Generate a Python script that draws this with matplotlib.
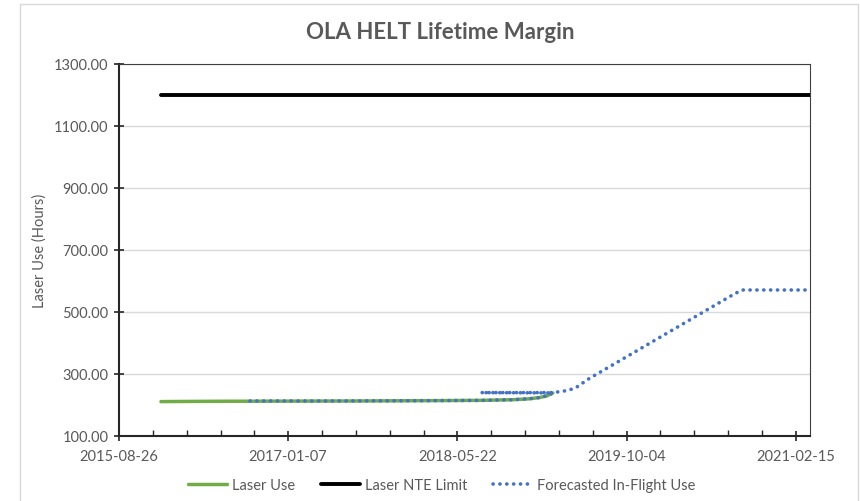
import matplotlib
matplotlib.use("Agg")
import matplotlib.pyplot as plt
import matplotlib.dates as mdates
import matplotlib.patches as patches
import numpy as np
from datetime import datetime, timedelta

plt.rcParams['font.family'] = ['Lato', 'DejaVu Sans']

# Laser Use (measured)
use_dates = ["2015-12-28", "2016-06-01", "2017-01-01", "2017-08-01", "2018-03-01",
             "2018-08-01", "2018-11-01", "2018-12-20", "2019-01-20", "2019-02-12", "2019-02-28"]
use_hours = [211, 212, 212.5, 213, 214, 215, 217, 220, 224, 230, 239]

# Laser NTE Limit
nte_dates = ["2015-12-28", "2021-03-29"]
nte_hours = [1200, 1200]

# Forecasted In-Flight Use
fc_dates = ["2016-09-16", "2017-06-01", "2018-03-01", "2018-08-01", "2018-11-01",
            "2018-12-20", "2019-01-20", "2019-02-12", "2019-02-28",
            "2018-07-30", "2019-02-28", "2019-04-15", "2019-05-10", "2019-06-15",
            "2020-08-20", "2020-09-11", "2021-03-29"]
fc_hours = [213, 213, 214, 215, 217, 220, 224, 230, 239,
            240, 240, 247, 258, 285,
            560, 571, 571]

y_ticks = [100, 300, 500, 700, 900, 1100, 1300]
x_start = datetime(2015, 8, 26)
x_end = datetime(2021, 3, 29)

def to_dt(lst):
    return [datetime.strptime(s, "%Y-%m-%d") for s in lst]

fig = plt.figure(figsize=(8.6, 5.02), dpi=100)
ax = fig.add_axes([119/860, 1-437/502, (810-119)/860, (437-65)/502])

grey = '#595959'

# chart frame
fig.patches.append(patches.Rectangle((20/860, -0.01), (858-20)/860, 1-5/502+0.01,
                                     transform=fig.transFigure, fill=False,
                                     edgecolor='#d9d9d9', linewidth=1))

ax.plot(to_dt(use_dates), use_hours, color='#70ad47', linewidth=2.5,
        solid_capstyle='round', label='Laser Use', zorder=3)
ax.plot(to_dt(nte_dates), nte_hours, color='black', linewidth=2.8,
        solid_capstyle='round', label='Laser NTE Limit', zorder=3)
ax.plot(to_dt(fc_dates), fc_hours, color='#4472c4', linewidth=2.6,
        linestyle=(0, (0.05, 1.85)), dash_capstyle='round',
        label='Forecasted In-Flight Use', zorder=4)

ax.set_xlim(x_start, x_end)
ax.set_ylim(100, 1300)

major = [x_start + timedelta(days=500 * i) for i in range(5)]
minor = [x_start + timedelta(days=100 * i) for i in range(21)]
ax.xaxis.set_major_locator(matplotlib.ticker.FixedLocator(mdates.date2num(major)))
ax.xaxis.set_minor_locator(matplotlib.ticker.FixedLocator(mdates.date2num(minor)))
ax.xaxis.set_major_formatter(mdates.DateFormatter('%Y-%m-%d'))
ax.set_yticks(y_ticks)
ax.yaxis.set_major_formatter(matplotlib.ticker.FormatStrFormatter('%.2f'))

ax.grid(axis='y', color='#d9d9d9', linewidth=1)
ax.set_axisbelow(True)

for s in ['left', 'bottom']:
    ax.spines[s].set_color('#262626')
    ax.spines[s].set_linewidth(1.5)
for s in ['top', 'right']:
    ax.spines[s].set_color('#404040')
    ax.spines[s].set_linewidth(0.8)
    ax.spines[s].set_linestyle((0, (1, 1)))

ax.tick_params(axis='both', which='major', direction='inout', length=7, width=1.2,
               color='#262626', labelcolor=grey, labelsize=10.5)
ax.tick_params(axis='x', which='minor', direction='in', length=4, width=1, color='#262626')
ax.tick_params(axis='x', which='major', pad=6)
ax.tick_params(axis='y', which='major', pad=4)

ax.set_ylabel('Laser Use (Hours)', color=grey, fontsize=10.5)
ax.yaxis.set_label_coords((47 - 119) / 691, 0.5)
fig.text(440/860, 1-33/502, 'OLA HELT Lifetime Margin', ha='center', va='center',
         fontsize=16, fontweight='bold', color=grey)

leg = ax.legend(loc='center', bbox_to_anchor=(0.467, -0.132), ncol=3, frameon=False,
                fontsize=10.5, handlelength=2.7, columnspacing=1.8, handletextpad=0.3)
for t in leg.get_texts():
    t.set_color(grey)

fig.savefig('out.png', dpi=100)
